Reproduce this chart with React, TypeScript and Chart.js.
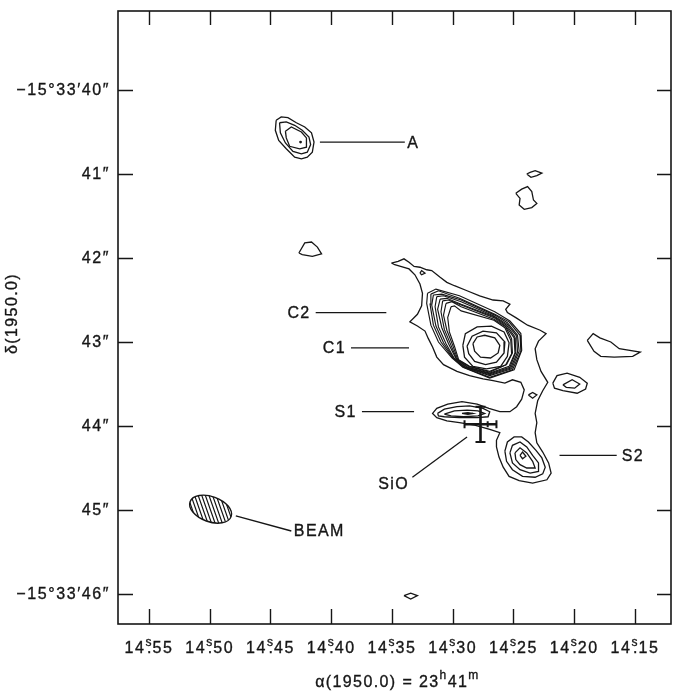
import React, { useEffect, useRef } from "react";
import { Chart, registerables } from "chart.js";

Chart.register(...registerables);

// ---------- axes ----------
const RA_LEFT = 14.575514; // seconds of RA at left edge (23h41m)
const RA_RIGHT = 14.12037;
const DEC_TOP = 39.059524; // arcsec of -15°33'
const DEC_BOTTOM = 46.357143;

const RA_TICKS = [14.55, 14.5, 14.45, 14.4, 14.35, 14.3, 14.25, 14.2, 14.15];
const RA_TICK_INT = "14";
const RA_TICK_FRAC = ["55", "50", "45", "40", "35", "30", "25", "20", "15"];
const DEC_TICKS = [40, 41, 42, 43, 44, 45, 46];
const DEC_TICK_LABELS = ["−15°33′40″", "41″", "42″", "43″", "44″", "45″", "−15°33′46″"];

// map reference position; contour vertices are offsets in arcsec (+east, +south)
const REF_RA = 14.3;
const REF_DEC = 43.0;
const DEC_DEG = 15 + 33 / 60 + 43 / 3600;
const ARCSEC_PER_RA_SEC = 15 * Math.cos((DEC_DEG * Math.PI) / 180);

// ---------- contours: C1 / C2 complex, connected to S1 and S2 at the lowest level ----------
const C_LEVEL1 = [
  [0.73, -0.94], [0.65, -0.96], [0.58, -0.99], [0.52, -0.95], [0.46, -0.9], [0.39, -0.89],
  [0.31, -0.86], [0.25, -0.85], [0.15, -0.77], [0.07, -0.71], [-0.02, -0.67], [-0.17, -0.61],
  [-0.32, -0.55], [-0.48, -0.5], [-0.6, -0.49], [-0.68, -0.45], [-0.63, -0.39], [-0.65, -0.35],
  [-0.75, -0.29], [-0.89, -0.2], [-1.04, -0.14], [-1.11, -0.1], [-1.02, -0.01], [-0.98, 0.08],
  [-1.0, 0.21], [-1.05, 0.35], [-1.13, 0.48], [-1.07, 0.58], [-1.01, 0.7], [-0.98, 0.85],
  [-1.0, 0.96], [-0.98, 1.08], [-1.0, 1.2], [-1.07, 1.31], [-1.14, 1.44], [-1.17, 1.56],
  [-1.12, 1.64], [-0.95, 1.68], [-0.79, 1.65], [-0.67, 1.6], [-0.6, 1.49], [-0.55, 1.37],
  [-0.52, 1.25], [-0.52, 1.17], [-0.56, 1.08], [-0.44, 1.04], [-0.26, 0.99], [-0.08, 0.96],
  [0.07, 0.94], [0.19, 0.9], [0.24, 0.85], [0.19, 0.79], [0.06, 0.74], [-0.11, 0.71],
  [-0.29, 0.74], [-0.43, 0.79], [-0.56, 0.83], [-0.68, 0.83], [-0.76, 0.77], [-0.82, 0.68],
  [-0.85, 0.57], [-0.81, 0.48], [-0.71, 0.45], [-0.62, 0.49], [-0.48, 0.46], [-0.36, 0.44],
  [-0.2, 0.4], [-0.05, 0.35], [0.11, 0.27], [0.19, 0.18], [0.24, 0.06], [0.29, -0.04],
  [0.33, -0.13], [0.42, -0.19], [0.51, -0.24], [0.42, -0.33], [0.37, -0.43], [0.36, -0.58],
  [0.39, -0.69], [0.45, -0.8], [0.52, -0.87], [0.62, -0.9], [0.69, -0.92],
];
const C_LEVEL2 = [
  [0.3, -0.58], [0.2, -0.63], [-0.08, -0.55], [-0.5, -0.36], [-0.68, -0.25], [-0.81, -0.1],
  [-0.82, 0.1], [-0.73, 0.33], [-0.44, 0.43], [-0.12, 0.3], [0.01, 0.19], [0.17, 0.0],
  [0.26, -0.2], [0.31, -0.46],
];
const C_LEVEL3 = [
  [0.26, -0.57], [0.17, -0.61], [-0.08, -0.52], [-0.5, -0.33], [-0.67, -0.24], [-0.8, -0.08],
  [-0.81, 0.11], [-0.71, 0.33], [-0.44, 0.42], [-0.13, 0.3], [0.0, 0.19], [0.14, 0.0],
  [0.23, -0.2], [0.27, -0.45],
];
const C_LEVEL4 = [
  [0.23, -0.56], [0.13, -0.57], [-0.1, -0.5], [-0.5, -0.32], [-0.65, -0.23], [-0.77, -0.08],
  [-0.79, 0.11], [-0.7, 0.32], [-0.44, 0.4], [-0.14, 0.3], [-0.01, 0.19], [0.11, 0.01],
  [0.2, -0.19], [0.25, -0.44],
];
const C_LEVEL5 = [
  [0.19, -0.54], [0.11, -0.55], [-0.1, -0.48], [-0.49, -0.31], [-0.65, -0.21], [-0.76, -0.07],
  [-0.77, 0.12], [-0.69, 0.31], [-0.44, 0.39], [-0.15, 0.3], [-0.02, 0.2], [0.08, 0.02],
  [0.17, -0.18], [0.21, -0.42],
];
const C_LEVEL6 = [
  [0.15, -0.51], [0.07, -0.52], [-0.1, -0.45], [-0.49, -0.3], [-0.64, -0.2], [-0.74, -0.06],
  [-0.75, 0.12], [-0.68, 0.3], [-0.44, 0.38], [-0.17, 0.3], [-0.04, 0.2], [0.05, 0.02],
  [0.13, -0.17], [0.18, -0.39],
];
const C_LEVEL7 = [
  [0.12, -0.49], [0.05, -0.5], [-0.1, -0.44], [-0.49, -0.29], [-0.63, -0.19], [-0.73, -0.05],
  [-0.74, 0.13], [-0.67, 0.29], [-0.44, 0.37], [-0.18, 0.3], [-0.05, 0.21], [0.02, 0.04],
  [0.1, -0.15], [0.14, -0.36],
];
const C_LEVEL8 = [
  [0.08, -0.46], [0.01, -0.48], [-0.1, -0.42], [-0.49, -0.27], [-0.63, -0.18], [-0.7, -0.04],
  [-0.71, 0.13], [-0.64, 0.27], [-0.44, 0.36], [-0.19, 0.29], [-0.06, 0.21], [0.0, 0.04],
  [0.07, -0.14], [0.11, -0.32],
];
const C_LEVEL9 = [
  [0.02, -0.42], [-0.02, -0.43], [-0.1, -0.37], [-0.49, -0.26], [-0.62, -0.17], [-0.69, -0.02],
  [-0.7, 0.14], [-0.63, 0.27], [-0.44, 0.35], [-0.2, 0.29], [-0.07, 0.21], [-0.02, 0.05],
  [0.04, -0.12], [0.06, -0.29],
];
const C1_LEVEL10 = [
  [-0.12, 0.04], [-0.15, -0.1], [-0.29, -0.18], [-0.46, -0.19], [-0.61, -0.12], [-0.67, 0.01],
  [-0.65, 0.17], [-0.57, 0.29], [-0.4, 0.32], [-0.24, 0.29], [-0.14, 0.18],
];
const C1_LEVEL11 = [
  [-0.17, 0.05], [-0.23, -0.07], [-0.36, -0.13], [-0.52, -0.11], [-0.62, 0.0], [-0.61, 0.13],
  [-0.52, 0.24], [-0.39, 0.27], [-0.26, 0.23], [-0.19, 0.14],
];
const C1_LEVEL12 = [
  [-0.24, 0.02], [-0.29, -0.06], [-0.38, -0.08], [-0.5, -0.05], [-0.56, 0.04], [-0.54, 0.13],
  [-0.45, 0.19], [-0.33, 0.18], [-0.26, 0.11],
];
const C2_TAIL_SPOT = [[0.39, -0.82], [0.37, -0.85], [0.33, -0.82], [0.37, -0.8]];
const BRIDGE_SPOT = [[-0.9, 0.63], [-0.95, 0.6], [-1.0, 0.63], [-0.95, 0.67]];

// ---------- S1 ----------
const S1_LEVEL2 = [
  [0.18, 0.85], [0.1, 0.8], [-0.05, 0.77], [-0.2, 0.76], [-0.36, 0.79], [-0.44, 0.83],
  [-0.42, 0.89], [-0.29, 0.9], [-0.08, 0.9], [0.1, 0.89], [0.17, 0.88],
];
const S1_LEVEL3 = [
  [0.1, 0.86], [-0.02, 0.82], [-0.17, 0.81], [-0.3, 0.82], [-0.38, 0.85], [-0.3, 0.88],
  [-0.13, 0.89], [0.02, 0.88],
];
const S1_PEAK = [[-0.11, 0.85], [-0.18, 0.84], [-0.24, 0.85], [-0.18, 0.86]];

// ---------- S2 ----------
const S2_LEVEL2 = [
  [-0.62, 1.3], [-0.65, 1.19], [-0.73, 1.13], [-0.82, 1.13], [-0.9, 1.19], [-0.99, 1.29],
  [-1.06, 1.38], [-1.1, 1.49], [-1.07, 1.57], [-0.98, 1.61], [-0.83, 1.6], [-0.71, 1.52],
  [-0.64, 1.42],
];
const S2_LEVEL3 = [
  [-0.68, 1.32], [-0.71, 1.23], [-0.8, 1.19], [-0.88, 1.25], [-0.95, 1.35], [-1.02, 1.44],
  [-1.02, 1.54], [-0.92, 1.56], [-0.8, 1.52], [-0.71, 1.44],
];
const S2_LEVEL4 = [
  [-0.74, 1.32], [-0.8, 1.26], [-0.88, 1.32], [-0.95, 1.42], [-0.98, 1.5], [-0.88, 1.5],
  [-0.8, 1.46], [-0.75, 1.4],
];
const S2_LEVEL5 = [[-0.8, 1.35], [-0.83, 1.31], [-0.87, 1.36], [-0.83, 1.39]];

// ---------- A ----------
const A_LEVEL1 = [
  [2.1, -2.64], [2.04, -2.68], [1.96, -2.67], [1.86, -2.61], [1.76, -2.56], [1.68, -2.49],
  [1.65, -2.38], [1.67, -2.26], [1.73, -2.2], [1.8, -2.18], [1.88, -2.2], [1.98, -2.3],
  [2.07, -2.4], [2.11, -2.52],
];
const A_LEVEL2 = [
  [2.06, -2.61], [1.98, -2.62], [1.88, -2.58], [1.79, -2.52], [1.71, -2.44], [1.69, -2.35],
  [1.73, -2.26], [1.8, -2.24], [1.9, -2.27], [1.99, -2.37], [2.05, -2.49],
];
const A_LEVEL3 = [
  [1.99, -2.51], [1.92, -2.56], [1.8, -2.5], [1.74, -2.43], [1.74, -2.32], [1.82, -2.3],
  [1.94, -2.33], [1.98, -2.43],
];
const A_PEAK = [1.81, -2.38];

// ---------- isolated weak blobs ----------
const BLOB_WEST = [[1.83, -1.06], [1.76, -1.18], [1.68, -1.19], [1.61, -1.13], [1.56, -1.05], [1.67, -1.02], [1.79, -1.04]];
const BLOB_NE_1 = [[-0.88, -2.0], [-0.92, -2.02], [-0.98, -2.04], [-1.06, -2.01], [-1.0, -1.98], [-0.93, -1.96]];
const BLOB_NE_2 = [
  [-0.75, -1.77], [-0.82, -1.82], [-0.89, -1.85], [-0.94, -1.79], [-0.96, -1.69], [-1.0, -1.65],
  [-0.94, -1.6], [-0.85, -1.58], [-0.79, -1.63], [-0.8, -1.71],
];
const BLOB_EAST_FAR = [
  [-1.6, -0.02], [-1.67, -0.1], [-1.75, -0.05], [-1.88, 0.0], [-1.98, 0.08], [-2.23, 0.12],
  [-2.14, 0.17], [-1.92, 0.18], [-1.76, 0.17], [-1.68, 0.11],
];
const BLOB_EAST_1 = [
  [-1.19, 0.49], [-1.24, 0.4], [-1.36, 0.37], [-1.51, 0.42], [-1.6, 0.49], [-1.58, 0.56],
  [-1.48, 0.61], [-1.31, 0.58], [-1.21, 0.55],
];
const BLOB_EAST_2 = [[-1.31, 0.51], [-1.42, 0.45], [-1.51, 0.5], [-1.45, 0.55], [-1.35, 0.54]];
const BLOB_SOUTH = [[0.58, 3.02], [0.5, 2.99], [0.42, 3.02], [0.5, 3.06]];

// ---------- SiO maser position with error bars (arcsec) ----------
const SIO_POS = [-0.33, 0.98];
const SIO_ERR_RA = 0.19;
const SIO_ERR_DEC = 0.21;

// ---------- synthesized beam ----------
const BEAM_POS = [2.88, 1.99];
const BEAM_MAJOR = 0.52; // FWHM arcsec
const BEAM_MINOR = 0.3;
const BEAM_PA = 70; // deg E of N

// ---------- annotations ----------
const LABEL_TEXT = ["A", "C2", "C1", "S1", "S2", "SiO", "BEAM"];
const LEADER_FROM = [[1.58, -2.38], [1.63, -0.35], [1.21, 0.07], [1.08, 0.83], [-1.27, 1.35], [-0.17, 1.13], [2.58, 2.07]];
const LEADER_TO = [[0.57, -2.38], [0.79, -0.35], [0.52, 0.07], [0.46, 0.83], [-1.95, 1.35], [0.48, 1.61], [1.92, 2.25]];
const LABEL_AT = [[0.54, -2.37], [1.69, -0.35], [1.27, 0.07], [1.14, 0.83], [-2.01, 1.35], [0.52, 1.68], [1.89, 2.25]];
const LABEL_ALIGN = ["left", "right", "right", "right", "left", "right", "left"];

const CONTOURS = [
  C_LEVEL1, C_LEVEL2, C_LEVEL3, C_LEVEL4, C_LEVEL5, C_LEVEL6, C_LEVEL7, C_LEVEL8, C_LEVEL9,
  C1_LEVEL10, C1_LEVEL11, C1_LEVEL12, C2_TAIL_SPOT, BRIDGE_SPOT,
  S1_LEVEL2, S1_LEVEL3, S1_PEAK,
  S2_LEVEL2, S2_LEVEL3, S2_LEVEL4, S2_LEVEL5,
  A_LEVEL1, A_LEVEL2, A_LEVEL3,
  BLOB_WEST, BLOB_NE_1, BLOB_NE_2, BLOB_EAST_FAR, BLOB_EAST_1, BLOB_EAST_2, BLOB_SOUTH,
];

const FONT = '"Liberation Sans", Arial, Helvetica, sans-serif';
const INK = "#161616";

const toData = (p: number[]) => ({ x: REF_RA + p[0] / ARCSEC_PER_RA_SEC, y: REF_DEC + p[1] });

function setFont(ctx: CanvasRenderingContext2D, size: number, spacing: number) {
  ctx.font = `${size}px ${FONT}`;
  (ctx as any).letterSpacing = `${spacing}px`;
}

function ink(ctx: CanvasRenderingContext2D, t: string, x: number, y: number) {
  ctx.fillText(t, x, y);
  ctx.strokeText(t, x, y);
}

const decorPlugin = {
  id: "decor",
  afterDatasetsDraw(chart: any) {
    const { ctx, chartArea: a, scales } = chart;
    const sx = scales.x;
    const sy = scales.y;
    const P = (p: number[]) => {
      const d = toData(p);
      return [sx.getPixelForValue(d.x), sy.getPixelForValue(d.y)];
    };
    const pxPerArcsec = Math.abs(sy.getPixelForValue(REF_DEC + 1) - sy.getPixelForValue(REF_DEC));
    ctx.save();
    ctx.strokeStyle = INK;
    ctx.fillStyle = INK;

    // frame
    ctx.lineWidth = 1.6;
    ctx.strokeRect(a.left, a.top, a.right - a.left, a.bottom - a.top);

    // ticks (inward on all four sides)
    ctx.lineWidth = 1.4;
    ctx.beginPath();
    RA_TICKS.forEach((v) => {
      const x = Math.round(sx.getPixelForValue(v)) + 0.5;
      ctx.moveTo(x, a.bottom);
      ctx.lineTo(x, a.bottom - 15);
      ctx.moveTo(x, a.top);
      ctx.lineTo(x, a.top + 14);
    });
    DEC_TICKS.forEach((v) => {
      const y = Math.round(sy.getPixelForValue(v)) + 0.5;
      ctx.moveTo(a.left, y);
      ctx.lineTo(a.left + 15, y);
      ctx.moveTo(a.right, y);
      ctx.lineTo(a.right - 14, y);
    });
    ctx.stroke();

    ctx.lineWidth = 0.35;

    // y tick labels
    setFont(ctx, 16, 1.6);
    ctx.textAlign = "right";
    ctx.textBaseline = "middle";
    DEC_TICKS.forEach((v, i) => {
      ink(ctx, DEC_TICK_LABELS[i], a.left - 8, sy.getPixelForValue(v) + 1);
    });

    // x tick labels: 14ˢ.55 with the "s" over the decimal point
    ctx.textAlign = "left";
    ctx.textBaseline = "alphabetic";
    const base = a.bottom + 29;
    RA_TICKS.forEach((v, i) => {
      const cx = sx.getPixelForValue(v);
      setFont(ctx, 16, 1.6);
      const w1 = ctx.measureText(RA_TICK_INT).width;
      const w2 = ctx.measureText(RA_TICK_FRAC[i]).width;
      const wd = ctx.measureText(".").width;
      setFont(ctx, 12, 0);
      const ws = ctx.measureText("s").width + 1;
      const total = w1 + ws + w2;
      const x0 = cx - total / 2;
      setFont(ctx, 16, 1.6);
      ink(ctx, RA_TICK_INT, x0, base);
      ink(ctx, ".", x0 + w1 + (ws - wd) / 2 + 1, base);
      ink(ctx, RA_TICK_FRAC[i], x0 + w1 + ws, base);
      setFont(ctx, 12, 0);
      ink(ctx, "s", x0 + w1, base - 7);
    });

    // x axis title: α(1950.0) = 23ʰ41ᵐ
    {
      const parts: [string, boolean][] = [["α(1950.0) = 23", false], ["h", true], ["41", false], ["m", true]];
      let tot = 0;
      const ws = parts.map(([t, sup]) => {
        setFont(ctx, sup ? 12 : 16, sup ? 0.5 : 1.4);
        const w = ctx.measureText(t).width + (sup ? 1 : 0);
        tot += w;
        return w;
      });
      let x = (a.left + a.right) / 2 + 3 - tot / 2;
      const b = a.bottom + 63;
      parts.forEach(([t, sup], i) => {
        setFont(ctx, sup ? 12 : 16, sup ? 0.5 : 1.4);
        ink(ctx, t, x, sup ? b - 8 : b);
        x += ws[i];
      });
    }

    // y axis title
    ctx.save();
    ctx.translate(a.left - 105, (a.top + a.bottom) / 2 - 4);
    ctx.rotate(-Math.PI / 2);
    setFont(ctx, 16, 1.4);
    ctx.textAlign = "center";
    ctx.textBaseline = "middle";
    ink(ctx, "δ(1950.0)", 0, 0);
    ctx.restore();

    // component labels
    setFont(ctx, 16, 1.4);
    ctx.textBaseline = "middle";
    LABEL_TEXT.forEach((t, i) => {
      const [x, y] = P(LABEL_AT[i]);
      ctx.textAlign = LABEL_ALIGN[i] as CanvasTextAlign;
      ink(ctx, t, x, y + 1);
    });

    // peak dot of A
    {
      const [x, y] = P(A_PEAK);
      ctx.beginPath();
      ctx.arc(x, y, 1.4, 0, Math.PI * 2);
      ctx.fill();
    }

    // beam ellipse, hatched
    {
      const [cx, cy] = P(BEAM_POS);
      const ra = (BEAM_MAJOR / 2) * pxPerArcsec;
      const rb = (BEAM_MINOR / 2) * pxPerArcsec;
      const rot = ((90 - BEAM_PA) * Math.PI) / 180;
      ctx.save();
      ctx.beginPath();
      ctx.ellipse(cx, cy, ra, rb, rot, 0, Math.PI * 2);
      ctx.lineWidth = 1.4;
      ctx.stroke();
      ctx.clip();
      ctx.lineWidth = 1.2;
      ctx.beginPath();
      for (let t = -40; t <= 40; t += 3.6) {
        ctx.moveTo(cx + t - 7, cy - 20);
        ctx.lineTo(cx + t + 7, cy + 20);
      }
      ctx.stroke();
      ctx.restore();
    }

    // SiO position with error bars
    {
      const [cx, cy] = P(SIO_POS);
      const ex = SIO_ERR_RA * pxPerArcsec;
      const ey = SIO_ERR_DEC * pxPerArcsec;
      ctx.lineWidth = 2.6;
      ctx.beginPath();
      ctx.moveTo(cx, cy - ey);
      ctx.lineTo(cx, cy + ey);
      ctx.moveTo(cx - ex, cy);
      ctx.lineTo(cx + ex, cy);
      ctx.stroke();
      ctx.lineWidth = 2;
      ctx.beginPath();
      ctx.moveTo(cx - 5, cy - ey);
      ctx.lineTo(cx + 5, cy - ey);
      ctx.moveTo(cx - 5, cy + ey);
      ctx.lineTo(cx + 5, cy + ey);
      ctx.moveTo(cx - ex, cy - 4);
      ctx.lineTo(cx - ex, cy + 4);
      ctx.moveTo(cx + ex, cy - 4);
      ctx.lineTo(cx + ex, cy + 4);
      ctx.moveTo(cx + ex * 0.45, cy - 3);
      ctx.lineTo(cx + ex * 0.45, cy + 3);
      ctx.stroke();
    }

    ctx.restore();
  },
};

export default function App() {
  const ref = useRef<HTMLCanvasElement | null>(null);

  useEffect(() => {
    if (!ref.current) return;
    const contourSets = CONTOURS.map((pts, i) => ({
      data: [...pts, pts[0]].map(toData),
      showLine: true,
      pointRadius: 0,
      borderColor: INK,
      borderWidth: i >= 1 && i <= 8 ? 1.15 : 1.3,
      tension: 0,
      fill: false,
    }));
    const leaderSets = LEADER_FROM.map((p, i) => ({
      data: [toData(p), toData(LEADER_TO[i])],
      showLine: true,
      pointRadius: 0,
      borderColor: INK,
      borderWidth: 1.3,
      tension: 0,
      fill: false,
    }));
    const chart = new Chart(ref.current, {
      type: "scatter",
      data: { datasets: [...contourSets, ...leaderSets] as any },
      options: {
        responsive: false,
        animation: false,
        devicePixelRatio: 1,
        layout: { padding: { left: 118, right: 2, top: 11, bottom: 67 } },
        plugins: { legend: { display: false }, tooltip: { enabled: false } },
        scales: {
          x: { type: "linear", min: RA_RIGHT, max: RA_LEFT, reverse: true, display: false },
          y: { type: "linear", min: DEC_TOP, max: DEC_BOTTOM, reverse: true, display: false },
        },
      },
      plugins: [decorPlugin],
    });
    return () => chart.destroy();
  }, []);

  return (
    <div style={{ position: "fixed", left: 0, top: 0, width: 673, height: 691, background: "#fff" }}>
      <canvas ref={ref} width={673} height={691} style={{ width: 673, height: 691, display: "block" }} />
    </div>
  );
}
